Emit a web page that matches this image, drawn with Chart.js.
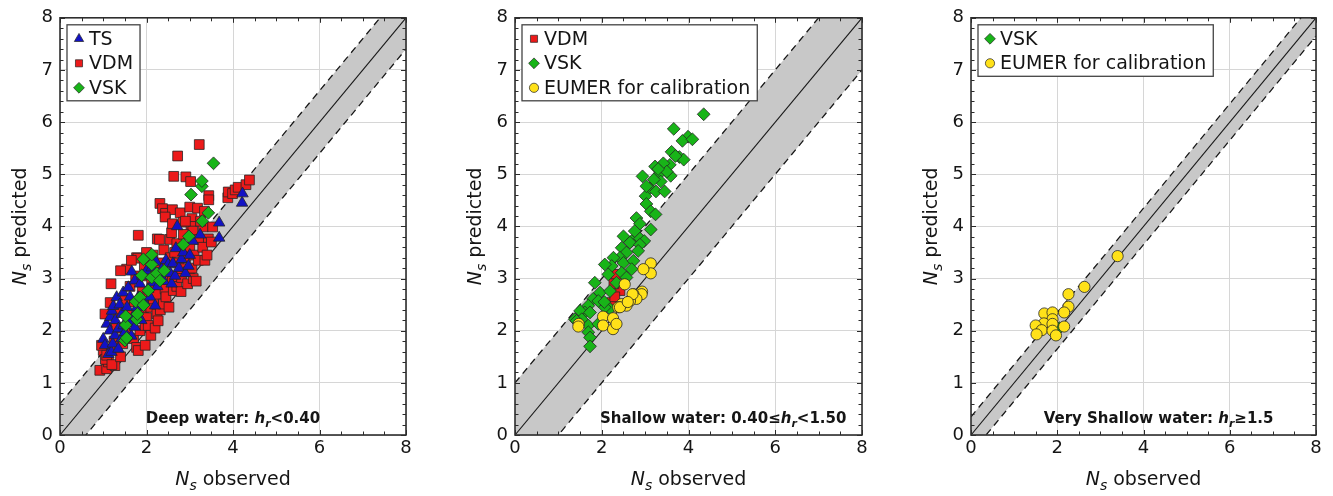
<!DOCTYPE html>
<html>
<head>
<meta charset="utf-8">
<title>Ns predicted vs observed</title>
<script src="https://cdn.jsdelivr.net/npm/chart.js@4.4.1/dist/chart.umd.min.js"></script>
<style>
  html, body { margin: 0; padding: 0; background: #fff; }
  body { position: relative; width: 1333px; height: 496px; overflow: hidden; }
  canvas { position: absolute; top: 0; }
</style>
</head>
<body>
<canvas id="deep" width="440" height="496" style="left:0px"></canvas>
<canvas id="shallow" width="440" height="496" style="left:455px"></canvas>
<canvas id="veryShallow" width="422" height="496" style="left:911px"></canvas>
<script>
// axes
const axisMax = 8;
const xTicks = [0, 2, 4, 6, 8];
const yTicks = [0, 1, 2, 3, 4, 5, 6, 7, 8];
const xMinorStep = 0.5;
const yMinorStep = 0.2;

// half width of the shaded band around the 1:1 line, one per panel
const bandHalfWidth = [0.6, 1.0, 0.35];

// [Ns observed, Ns predicted]
const deepTS = [
  [1.00, 1.84], [1.04, 1.72], [1.08, 2.13], [1.12, 1.55], [1.15, 2.00], [1.16, 2.26], [1.19, 1.59], [1.20, 2.38],
  [1.22, 1.75], [1.23, 2.47], [1.27, 1.91], [1.28, 2.20], [1.31, 2.64], [1.35, 2.04], [1.35, 1.65], [1.38, 2.50],
  [1.42, 1.85], [1.43, 2.32], [1.46, 2.73], [1.47, 2.10], [1.50, 1.97], [1.55, 2.45], [1.58, 2.83], [1.60, 2.15],
  [1.62, 2.65], [1.65, 1.90], [1.66, 3.13], [1.70, 2.29], [1.73, 2.07], [1.73, 2.96], [1.78, 2.45], [1.81, 2.64],
  [1.85, 2.90], [1.88, 2.20], [1.90, 3.05], [1.95, 2.55], [2.00, 3.15], [2.04, 2.80], [2.08, 2.65], [2.12, 3.21],
  [2.16, 2.92], [2.20, 2.48], [2.22, 3.32], [2.25, 2.85], [2.30, 3.05], [2.35, 3.18], [2.40, 2.95], [2.45, 3.35],
  [2.50, 3.27], [2.55, 3.10], [2.58, 2.90], [2.61, 3.29], [2.66, 3.05], [2.68, 3.58], [2.71, 4.00], [2.75, 3.20],
  [2.81, 3.37], [2.85, 3.50], [2.90, 3.10], [2.97, 3.24], [3.00, 3.45], [3.07, 3.72], [3.24, 3.84], [3.68, 4.07],
  [3.68, 3.78], [4.21, 4.45], [4.22, 4.63]
];
const deepVDM = [
  [3.22, 5.57], [2.72, 5.35], [2.63, 4.96], [2.91, 4.95], [3.02, 4.86], [3.44, 4.59], [3.44, 4.51],
  [2.31, 4.44], [2.37, 4.34], [2.44, 4.25], [2.60, 4.32], [2.78, 4.26], [3.00, 4.37], [3.18, 4.35], [3.34, 4.29],
  [2.43, 4.18], [2.85, 4.08], [3.05, 4.15], [3.03, 4.00], [3.07, 3.91], [3.31, 3.99], [3.53, 3.99],
  [1.81, 3.83], [2.25, 3.76], [2.54, 3.75], [2.58, 3.88], [2.70, 3.67], [2.89, 3.58], [3.22, 3.75], [3.43, 3.76],
  [1.77, 3.40], [3.88, 4.55], [3.89, 4.66], [3.99, 4.63], [4.05, 4.70], [4.12, 4.75], [4.30, 4.80], [4.38, 4.89],
  [0.92, 1.24], [1.08, 1.27], [1.27, 1.33], [1.12, 1.40], [1.00, 1.62], [1.05, 1.45], [1.15, 1.65], [0.96, 1.72],
  [1.08, 1.53], [1.20, 1.35], [1.25, 1.80], [1.30, 2.05], [1.04, 2.32], [1.16, 2.54], [1.35, 2.35], [1.40, 1.50],
  [1.45, 1.75], [1.50, 2.60], [1.55, 1.95], [1.60, 2.30], [1.62, 2.85], [1.54, 3.18], [1.70, 1.85], [1.72, 2.55],
  [1.75, 3.05], [1.77, 1.68], [1.81, 1.62], [1.80, 3.39], [1.85, 2.00], [1.88, 2.40], [1.90, 2.75], [1.93, 2.26],
  [1.93, 2.61], [1.95, 3.25], [1.97, 1.72], [1.97, 2.10], [2.00, 2.25], [2.02, 3.05], [2.04, 2.10], [2.10, 1.91],
  [2.10, 2.45], [2.12, 2.90], [2.15, 3.45], [2.16, 2.61], [2.20, 2.05], [2.22, 2.70], [2.24, 2.32], [2.27, 2.19],
  [2.30, 3.30], [2.32, 2.40], [2.35, 2.95], [2.39, 2.51], [2.40, 3.55], [2.43, 2.80], [2.45, 2.65], [2.50, 3.05],
  [2.52, 2.45], [2.55, 3.40], [2.60, 2.95], [2.62, 2.77], [2.65, 3.50], [2.70, 2.85], [2.75, 3.30], [2.80, 2.75],
  [2.81, 3.02], [2.81, 3.19], [2.85, 3.85], [2.90, 3.40], [2.95, 2.90], [2.97, 3.13], [3.00, 3.60], [3.05, 3.20],
  [3.08, 3.00], [3.10, 3.45], [3.15, 2.95], [3.20, 3.35], [3.30, 3.60], [3.35, 3.35], [3.40, 3.45], [3.50, 3.70],
  [1.18, 2.90], [1.40, 3.15], [1.65, 3.35], [2.00, 3.50], [2.30, 3.75], [2.60, 4.05], [2.90, 4.10], [3.25, 4.10]
];
const deepVSK = [
  [1.50, 1.81], [1.54, 1.86], [1.52, 2.11], [1.52, 2.28], [1.77, 2.22], [1.79, 2.32], [1.75, 2.56], [1.85, 2.64],
  [1.93, 2.49], [2.04, 2.77], [1.89, 3.06], [1.93, 3.37], [2.12, 3.02], [2.12, 3.27], [2.12, 3.46], [2.24, 3.10],
  [2.31, 2.96], [2.41, 3.15], [2.85, 3.65], [2.98, 3.81], [3.03, 4.61], [3.28, 4.77], [3.28, 4.87], [3.29, 4.10],
  [3.43, 4.26], [3.55, 5.21]
];

const shallowVDM = [[2.34, 3.08], [2.23, 2.54], [2.42, 2.77], [2.28, 2.90], [2.30, 2.65]];
const shallowVSK = [
  [4.35, 6.15], [3.66, 5.87], [3.99, 5.72], [3.86, 5.64], [4.09, 5.67], [3.79, 5.33], [3.89, 5.28], [3.61, 5.43],
  [3.57, 5.18], [3.42, 5.21], [3.23, 5.15], [3.34, 5.02], [3.59, 4.97], [3.36, 4.86], [2.94, 4.96], [3.11, 4.73],
  [3.25, 4.67], [3.45, 4.67], [3.01, 4.58], [3.03, 4.77], [3.03, 4.43], [3.13, 4.29], [3.24, 4.23], [2.80, 4.16],
  [2.88, 4.05], [3.13, 3.94], [2.50, 3.81], [2.69, 3.72], [2.88, 3.77], [2.76, 3.91], [2.98, 3.72], [2.65, 3.69],
  [2.88, 3.65], [2.84, 3.53], [2.46, 3.59], [2.57, 3.50], [2.42, 3.40], [2.27, 3.40], [2.23, 3.24], [2.50, 3.30],
  [2.73, 3.34], [2.69, 3.18], [2.46, 3.11], [2.57, 3.02], [2.34, 2.92], [2.07, 3.27], [2.15, 3.08], [1.84, 2.92],
  [1.96, 2.73], [2.19, 2.76], [1.80, 2.61], [2.19, 2.42], [1.69, 2.48], [1.61, 2.35], [1.50, 2.38], [1.38, 2.22],
  [1.54, 2.22], [1.73, 2.35], [1.69, 2.10], [1.69, 1.97], [1.73, 1.87], [2.07, 2.45], [1.92, 2.13], [1.73, 1.70],
  [1.42, 2.19], [1.92, 2.57], [2.06, 2.55], [3.50, 5.05], [3.70, 5.35], [3.20, 4.90], [3.30, 5.10]
];
const shallowEUMER = [
  [3.13, 3.29], [3.13, 3.10], [2.96, 3.18], [2.53, 2.89], [2.93, 2.75], [2.92, 2.70], [2.73, 2.70], [2.80, 2.61],
  [2.65, 2.57], [2.57, 2.48], [2.46, 2.51], [2.38, 2.45], [2.03, 2.27], [2.26, 2.24], [2.03, 2.10], [2.26, 2.03],
  [2.34, 2.13], [1.47, 2.13], [1.46, 2.08], [2.71, 2.70], [2.42, 2.45], [2.60, 2.55]
];

const veryShallowVSK = [[2.05, 2.05]];
const veryShallowEUMER = [
  [3.40, 3.43], [2.63, 2.84], [2.26, 2.70], [2.26, 2.46], [2.16, 2.35], [1.70, 2.33], [1.89, 2.35], [1.89, 2.22],
  [1.69, 2.14], [1.89, 2.13], [1.50, 2.10], [1.64, 2.01], [1.89, 2.00], [2.16, 2.08], [1.52, 1.93], [1.97, 1.91]
];

const FONT = '"DejaVu Sans", "Lucida Grande", sans-serif';
const INK = '#151515';

const markers = {
  TS:    { label: 'TS',                    pointStyle: 'triangle', color: '#1212c4', radius: 6.6, legendRadius: 5.4 },
  VDM:   { label: 'VDM',                   pointStyle: 'rect',     color: '#ec1a1a', radius: 6.9, legendRadius: 5.0 },
  VSK:   { label: 'VSK',                   pointStyle: 'rectRot',  color: '#18b418', radius: 6.4, legendRadius: 5.4 },
  EUMER: { label: 'EUMER for calibration', pointStyle: 'circle',   color: '#ffe119', radius: 5.6, legendRadius: 4.6 }
};

// draws a run of differently styled text pieces along one baseline
function drawParts(ctx, parts, x, y, align) {
  let total = 0;
  parts.forEach(p => { ctx.font = p.font; p.w = ctx.measureText(p.text).width; total += p.w; });
  let cx = align === 'center' ? x - total / 2 : x;
  ctx.textAlign = 'left';
  ctx.textBaseline = 'alphabetic';
  parts.forEach(p => { ctx.font = p.font; ctx.fillText(p.text, cx, y + (p.shift || 0)); cx += p.w; });
}

function drawMarker(ctx, style, x, y, r) {
  ctx.beginPath();
  if (style === 'rect') {
    const s = r * Math.SQRT1_2;
    ctx.rect(x - s, y - s, 2 * s, 2 * s);
  } else if (style === 'triangle') {
    ctx.moveTo(x, y - r);
    ctx.lineTo(x + r * 0.866, y + r * 0.5);
    ctx.lineTo(x - r * 0.866, y + r * 0.5);
    ctx.closePath();
  } else if (style === 'rectRot') {
    ctx.moveTo(x, y - r);
    ctx.lineTo(x + r, y);
    ctx.lineTo(x, y + r);
    ctx.lineTo(x - r, y);
    ctx.closePath();
  } else {
    ctx.arc(x, y, r, 0, Math.PI * 2);
  }
  ctx.fill();
  ctx.stroke();
}

const axisTitleParts = (word) => [
  { text: 'N', font: 'italic 19px ' + FONT },
  { text: 's', font: 'italic 14px ' + FONT, shift: 5 },
  { text: ' ' + word, font: '19px ' + FONT }
];

// box, inner tick marks, axis titles, legend box and regime label
const framePlugin = {
  id: 'frame',
  afterDraw(chart, args, opts) {
    const { ctx, chartArea: a, scales: { x, y } } = chart;
    ctx.save();

    ctx.strokeStyle = '#2a2a2a';
    ctx.lineWidth = 1;
    ctx.beginPath();
    for (let i = 0; i <= Math.round(axisMax / xMinorStep); i++) {
      const v = i * xMinorStep;
      const px = Math.round(x.getPixelForValue(v)) + 0.5;
      const len = xTicks.includes(v) ? 5 : 3.5;
      ctx.moveTo(px, a.bottom); ctx.lineTo(px, a.bottom - len);
      ctx.moveTo(px, a.top); ctx.lineTo(px, a.top + len);
    }
    for (let i = 0; i <= Math.round(axisMax / yMinorStep); i++) {
      const v = +(i * yMinorStep).toFixed(3);
      const py = Math.round(y.getPixelForValue(v)) + 0.5;
      const len = yTicks.includes(v) ? 5 : 3.5;
      ctx.moveTo(a.left, py); ctx.lineTo(a.left + len, py);
      ctx.moveTo(a.right, py); ctx.lineTo(a.right - len, py);
    }
    ctx.stroke();

    ctx.lineWidth = 1.6;
    ctx.strokeStyle = '#2e2e2e';
    ctx.strokeRect(a.left, a.top, a.width, a.height);

    // axis titles
    ctx.fillStyle = INK;
    drawParts(ctx, axisTitleParts('observed'), (a.left + a.right) / 2, 485, 'center');
    ctx.save();
    ctx.translate(26, (a.top + a.bottom) / 2);
    ctx.rotate(-Math.PI / 2);
    drawParts(ctx, axisTitleParts('predicted'), 0, 0, 'center');
    ctx.restore();

    // regime label
    const note = opts.note;
    drawParts(ctx, [
      { text: note[0], font: 'bold 15px ' + FONT },
      { text: 'h', font: 'italic bold 15px ' + FONT },
      { text: 'r', font: 'italic bold 11px ' + FONT, shift: 4 },
      { text: note[1], font: 'bold 15px ' + FONT }
    ], x.getPixelForValue(opts.noteX), 423, 'center');

    // legend
    const keys = opts.legend;
    ctx.font = '19px ' + FONT;
    const textW = Math.max(...keys.map(k => ctx.measureText(markers[k].label).width));
    const bx = a.left + 7, by = a.top + 7;
    const bw = 23 + textW + 6;
    const rowH = 24.5;
    const bh = 14 + (keys.length - 1) * rowH + 13;
    ctx.fillStyle = '#fff';
    ctx.fillRect(bx, by, bw, bh);
    ctx.lineWidth = 1.3;
    ctx.strokeStyle = '#444';
    ctx.strokeRect(bx, by, bw, bh);
    keys.forEach((k, i) => {
      const m = markers[k];
      const cy = by + 14 + i * rowH;
      ctx.fillStyle = m.color;
      ctx.strokeStyle = '#222';
      ctx.lineWidth = 0.7;
      drawMarker(ctx, m.pointStyle, bx + 12, cy, m.legendRadius);
      ctx.fillStyle = INK;
      ctx.font = '19px ' + FONT;
      ctx.textAlign = 'left';
      ctx.textBaseline = 'middle';
      ctx.fillText(m.label, bx + 22, cy + 1);
    });

    ctx.restore();
  }
};

function toPoints(pairs) {
  return pairs.map(([obs, pred]) => ({ x: obs, y: pred }));
}

function makePanel(canvasId, band, series, legend, note, noteX, padRight) {
  // higher order is painted first: band fill, then its edges, then the 1:1 line
  const guide = (offset, dashed, fill, order) => ({
    type: 'line',
    data: [{ x: 0, y: offset }, { x: axisMax, y: axisMax + offset }],
    borderColor: '#181818',
    borderWidth: dashed ? 1.3 : 1.1,
    borderDash: dashed ? [7, 5] : [],
    pointRadius: 0,
    fill: fill,
    backgroundColor: '#c8c8c8',
    order: order
  });

  const scatterSets = series.map(([key, pairs], i) => {
    const m = markers[key];
    return {
      type: 'scatter',
      label: m.label,
      data: toPoints(pairs),
      pointStyle: m.pointStyle,
      pointRadius: m.radius,
      backgroundColor: m.color,
      borderColor: '#262626',
      borderWidth: 0.8,
      order: series.length - i
    };
  });

  const tickFont = { family: FONT, size: 18 };

  new Chart(document.getElementById(canvasId), {
    type: 'scatter',
    data: {
      datasets: [
        guide(band, true, '+1', 103),
        guide(-band, true, false, 102),
        guide(0, false, false, 101),
        ...scatterSets
      ]
    },
    options: {
      responsive: false,
      animation: false,
      devicePixelRatio: 1,
      layout: { padding: { top: 16, right: padRight, left: 0, bottom: 0 } },
      plugins: {
        legend: { display: false },
        tooltip: { enabled: false },
        frame: { legend, note, noteX }
      },
      scales: {
        x: {
          type: 'linear', min: 0, max: axisMax,
          afterBuildTicks: s => { s.ticks = xTicks.map(v => ({ value: v })); },
          afterFit: s => { s.height = 61; },
          grid: { color: '#d6d6d6', lineWidth: 1, drawTicks: false },
          border: { display: false },
          ticks: { font: tickFont, color: INK, padding: 3 }
        },
        y: {
          type: 'linear', min: 0, max: axisMax,
          afterBuildTicks: s => { s.ticks = yTicks.map(v => ({ value: v })); },
          afterFit: s => { s.width = 60; },
          grid: { color: '#d6d6d6', lineWidth: 1, drawTicks: false },
          border: { display: false },
          ticks: { font: tickFont, color: INK, padding: 7 }
        }
      }
    },
    plugins: [framePlugin]
  });
}

makePanel('deep', bandHalfWidth[0],
  [['VDM', deepVDM], ['TS', deepTS], ['VSK', deepVSK]],
  ['TS', 'VDM', 'VSK'], ['Deep water: ', '<0.40'], 4.0, 34);

makePanel('shallow', bandHalfWidth[1],
  [['VDM', shallowVDM], ['VSK', shallowVSK], ['EUMER', shallowEUMER]],
  ['VDM', 'VSK', 'EUMER'], ['Shallow water: 0.40\u2264', '<1.50'], 4.8, 33);

makePanel('veryShallow', bandHalfWidth[2],
  [['VSK', veryShallowVSK], ['EUMER', veryShallowEUMER]],
  ['VSK', 'EUMER'], ['Very Shallow water: ', '\u22651.5'], 4.35, 17);
</script>
</body>
</html>
